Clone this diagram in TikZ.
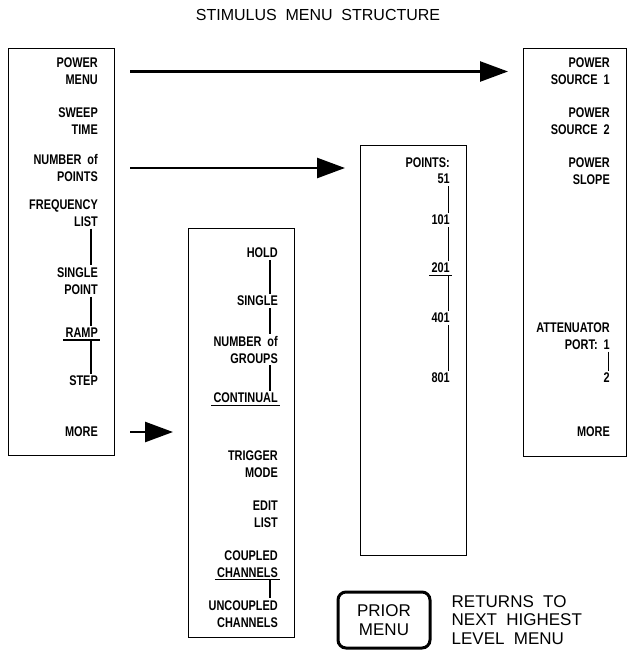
\documentclass[tikz,border=0pt]{standalone}
\usepackage{fontspec}
\setmainfont{Liberation Sans}
\newfontfamily\keyfont[FakeStretch=0.78]{Liberation Sans}
\newcommand\keyfnt{\fontsize{14}{17}\selectfont\keyfont\bfseries}
\newcommand\plotfnt{\fontsize{17}{18.5}\selectfont}
\newcommand\wgap{\hspace{0.55em}}
\usepackage{tikz}
\usetikzlibrary{
  arrows.meta,
  positioning,
}

\begin{document}
\begin{tikzpicture}[
  x=1pt, y=-1pt,
  >={Triangle[length=28pt,width=20pt]},
  menubox/.style={draw, line width=1.3pt, inner sep=0pt, anchor=north west},
  key/.style={font=\keyfnt, align=right, anchor=east, inner xsep=0pt, inner ysep=2pt},
  link/.style={line width=1.2pt},
  sel/.style={line width=1.2pt, shorten <=-2pt, shorten >=-2pt},
  jump/.style={->, line width=2.6pt, shorten <=15pt, shorten >=15pt},
]
  \useasboundingbox (0,0) rectangle (628,651);

  % Title
  \node[font=\fontsize{16}{19}\selectfont] (title) at (318,15)
    {STIMULUS\wgap MENU\wgap STRUCTURE};

  % Menu boxes
  \node[menubox, minimum width=106pt, minimum height=407pt] (stim) at (8,48) {};
  \node[menubox, minimum width=106pt, minimum height=409pt] (trigger) at (188,228) {};
  \node[menubox, minimum width=106pt, minimum height=410pt] (points) at (360,145) {};
  \node[menubox, minimum width=103pt, minimum height=408pt] (power) at (523,48) {};

  % Stimulus menu keys
  \node[key] (pmenu)  at (98,71.5)  {POWER\\MENU};
  \node[key] (sweep)  at (98,121)   {SWEEP\\TIME};
  \node[key] (npts)   at (98,168)   {NUMBER\ \ of\\POINTS};
  \node[key] (freq)   at (98,213)   {FREQUENCY\\LIST};
  \node[key] (single) at (98,281)   {SINGLE\\POINT};
  \node[key] (ramp)   at (98,333)   {RAMP};
  \node[key] (step)   at (98,381)   {STEP};
  \node[key] (more)   at (98,432)   {MORE};
  \draw[link] ([xshift=-7pt]freq.south east) -- ([xshift=-7pt]single.north east);
  \draw[link] ([xshift=-7pt]single.south east) -- ([xshift=-7pt]ramp.north east);
  \draw[sel] (ramp.south west) -- (ramp.south east);
  \draw[link] ([xshift=-7pt]ramp.south east) -- ([xshift=-7pt]step.north east);

  % Trigger menu keys
  \node[key] (hold)    at (278,253)   {HOLD};
  \node[key] (sgl)     at (278,301)   {SINGLE};
  \node[key] (groups)  at (278,349.5) {NUMBER\ \ of\\GROUPS};
  \node[key] (cont)    at (278,398)   {CONTINUAL};
  \node[key] (trig)    at (278,464)   {TRIGGER\\MODE};
  \node[key] (edit)    at (278,514)   {EDIT\\LIST};
  \node[key] (coupled) at (278,564)   {COUPLED\\CHANNELS};
  \node[key] (uncpl)   at (278,614)   {UNCOUPLED\\CHANNELS};
  \draw[link] ([xshift=-8pt]hold.south east) -- ([xshift=-8pt]sgl.north east);
  \draw[link] ([xshift=-8pt]sgl.south east) -- ([xshift=-8pt]groups.north east);
  \draw[link] ([xshift=-8pt]groups.south east) -- ([xshift=-8pt]cont.north east);
  \draw[sel] (cont.south west) -- (cont.south east);
  \draw[sel] (coupled.south west) -- (coupled.south east);
  \draw[link] ([xshift=-8pt]coupled.south east) -- ([xshift=-8pt]uncpl.north east);

  % Number of points
  \node[key] (ptsname) at (450,163) {POINTS:};
  \node[key] (p51)  at (450,179) {51};
  \node[key] (p101) at (450,220) {101};
  \node[key] (p201) at (450,268) {201};
  \node[key] (p401) at (450,318) {401};
  \node[key] (p801) at (450,378) {801};
  \draw[link] ([xshift=-1.5pt]p51.south east) -- ([xshift=-1.5pt]p101.north east);
  \draw[link] ([xshift=-1.5pt]p101.south east) -- ([xshift=-1.5pt]p201.north east);
  \draw[sel] (p201.south west) -- (p201.south east);
  \draw[link] ([xshift=-1.5pt]p201.south east) -- ([xshift=-1.5pt]p401.north east);
  \draw[link] ([xshift=-1.5pt]p401.south east) -- ([xshift=-1.5pt]p801.north east);

  % Power menu keys
  \node[key] (src1)  at (610,71.5)  {POWER\\SOURCE\ \ 1};
  \node[key] (src2)  at (610,121)   {POWER\\SOURCE\ \ 2};
  \node[key] (slope) at (610,171)   {POWER\\SLOPE};
  \node[key] (atten) at (610,336)   {ATTENUATOR\\PORT:\ \ 1};
  \node[key] (port2) at (610,378)   {2};
  \node[key] (pmore) at (610,432)   {MORE};
  \draw[link] ([xshift=-1.5pt]atten.south east) -- ([xshift=-1.5pt]port2.north east);

  % Softkey jumps
  \draw[jump] (stim.east |- pmenu) -- (power.west |- pmenu);
  \draw[jump] (stim.east |- npts) -- (points.west |- npts);
  \draw[jump] (stim.east |- more) -- (trigger.west |- more);

  % Prior menu key
  \node[draw, line width=3pt, rounded corners=8pt, minimum width=92pt,
    minimum height=56pt, align=center, font=\fontsize{17}{19}\selectfont]
    (prior) at (384,620) {PRIOR\\MENU};
  \node[right=20pt of prior, align=left, inner sep=0pt, font=\plotfnt] (returns)
    {RETURNS\wgap TO\\NEXT\wgap HIGHEST\\LEVEL\wgap MENU};

\end{tikzpicture}
\end{document}
